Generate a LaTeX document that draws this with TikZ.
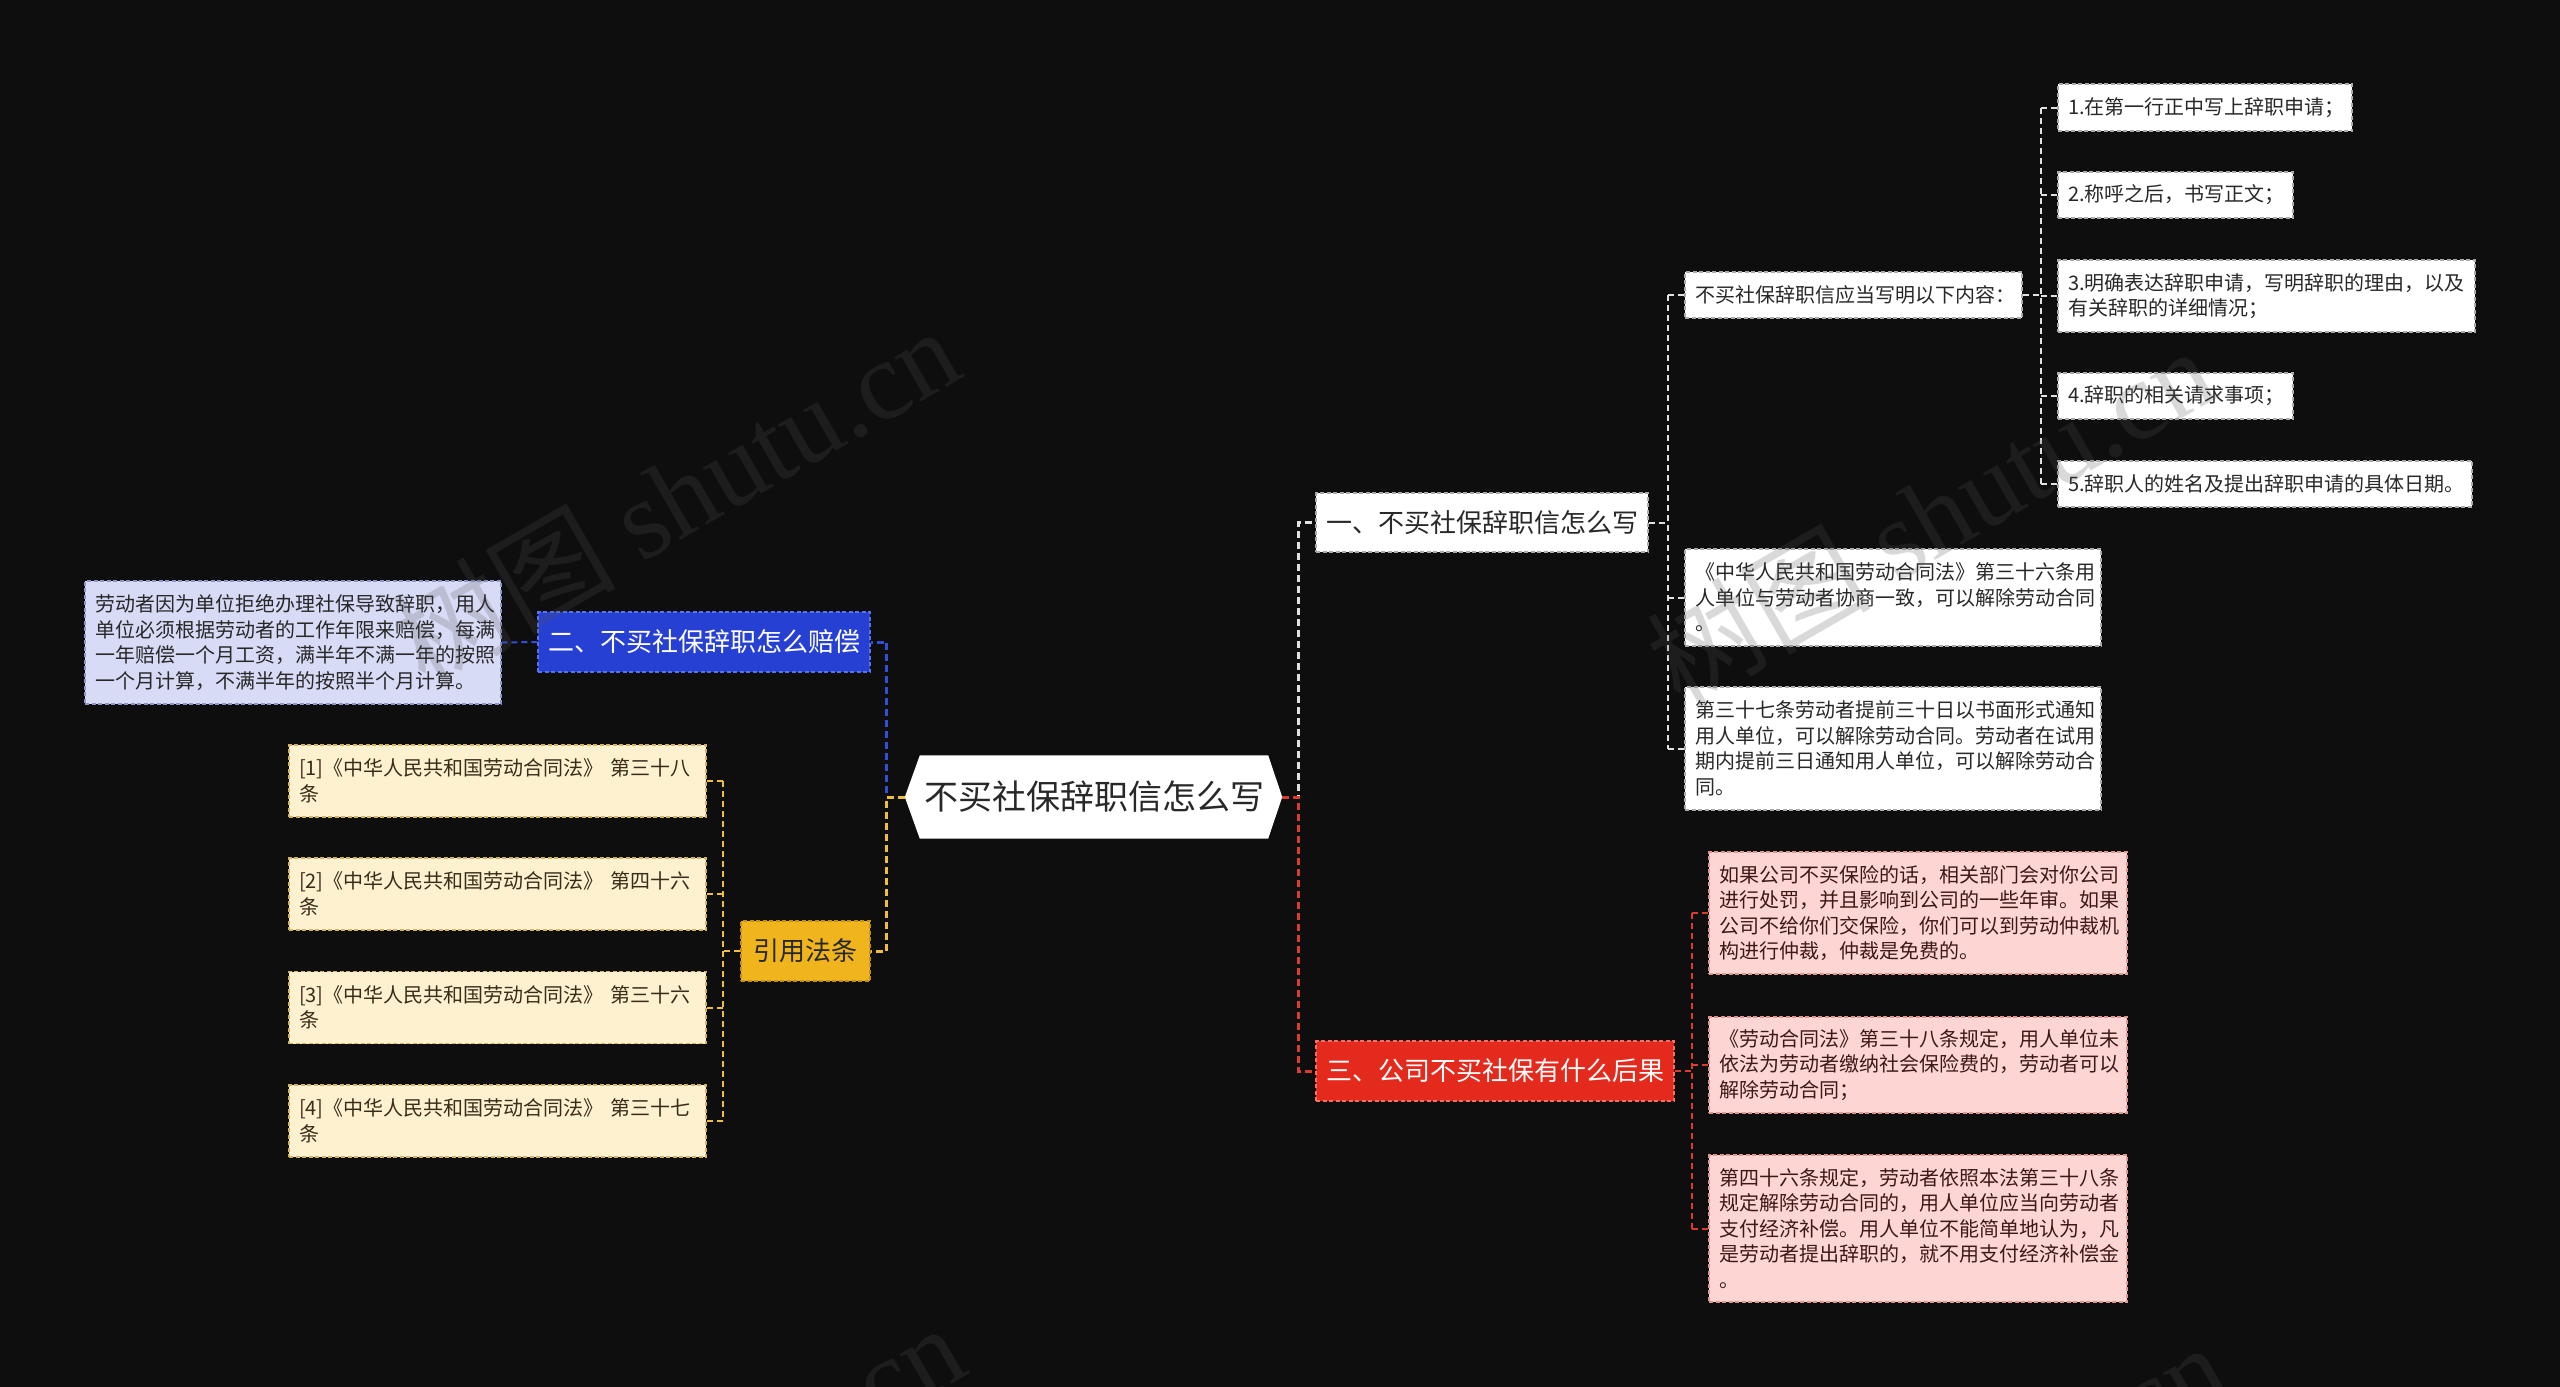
\documentclass[tikz,border=0pt]{standalone}
\usepackage{fontspec}
\setmainfont{Noto Sans CJK SC}
\newfontfamily\wmlatin{Liberation Serif}
\usetikzlibrary{calc}
\setlength{\parindent}{0pt}
\definecolor{bgc}{RGB}{14,14,14}
\definecolor{txt}{RGB}{40,40,40}
\definecolor{wborder}{RGB}{170,170,170}
\definecolor{bluefill}{RGB}{38,64,212}
\definecolor{blueborder}{RGB}{90,115,235}
\definecolor{bluelink}{RGB}{48,80,215}
\definecolor{lavfill}{RGB}{216,219,246}
\definecolor{lavborder}{RGB}{140,148,200}
\definecolor{yelfill}{RGB}{240,181,28}
\definecolor{yelborder}{RGB}{196,145,14}
\definecolor{yellink}{RGB}{240,190,60}
\definecolor{creamfill}{RGB}{253,241,208}
\definecolor{creamborder}{RGB}{210,180,100}
\definecolor{creamtxt}{RGB}{55,45,25}
\definecolor{redfill}{RGB}{228,42,29}
\definecolor{redborder}{RGB}{250,110,95}
\definecolor{redlink}{RGB}{220,60,45}
\definecolor{pinkfill}{RGB}{253,214,211}
\definecolor{pinkborder}{RGB}{225,150,145}
\definecolor{pinktxt}{RGB}{60,25,25}
\definecolor{wlink}{RGB}{225,225,225}
\definecolor{wmgray}{RGB}{85,85,85}
\pgfdeclarelayer{bglayer}
\pgfsetlayers{bglayer,main}
\tikzset{
  nodebase/.style={rectangle, inner xsep=10pt, inner ysep=0pt, line width=1.3pt, dash pattern=on 4pt off 2.5pt},
  lvone/.style={nodebase, font=\fontsize{26}{32}\selectfont, inner xsep=0pt, align=center, minimum height=60pt},
  smallbox/.style={nodebase, font=\fontsize{20}{25.5}\selectfont, align=left},
  whitebox/.style={smallbox, fill=white, draw=wborder, text=txt},
  lavbox/.style={smallbox, fill=lavfill, draw=lavborder, text=txt},
  creambox/.style={smallbox, fill=creamfill, draw=creamborder, text=creamtxt},
  pinkbox/.style={smallbox, fill=pinkfill, draw=pinkborder, text=pinktxt},
  mainlink/.style={line width=3pt, dash pattern=on 7pt off 4pt},
  seclink/.style={line width=2pt, dash pattern=on 6pt off 4pt},
  wmark/.style={font=\fontsize{112}{112}\selectfont, text=wmgray, text opacity=0.22, inner sep=0pt, rotate=30}
}
\begin{document}
\begin{tikzpicture}[x=1pt,y=-1pt]
\useasboundingbox (0,0) rectangle (2560,1387);
\begin{pgfonlayer}{bglayer}
\fill[bgc] (0,0) rectangle (2560,1387);
\end{pgfonlayer}

% root
\node[rectangle, inner sep=0pt, minimum width=348pt, minimum height=83pt, font=\fontsize{34}{40}\selectfont, text=txt] (root) at (1094,797) {不买社保辞职信怎么写};
\coordinate (rootR) at ($(root.east)+(14,0)$);
\coordinate (rootL) at ($(root.west)+(-15,0)$);
\begin{pgfonlayer}{bglayer}
\fill[white] (root.north west) -- (root.north east) -- (rootR) -- (root.south east) -- (root.south west) -- (rootL) -- cycle;
\end{pgfonlayer}

% level one
\node[lvone, fill=white, draw=wborder, text=txt, minimum width=332pt, minimum height=59pt] (n1) at (1482,522.5) {一、不买社保辞职信怎么写};
\node[lvone, fill=bluefill, draw=blueborder, text=white, minimum width=332pt] (n2) at (704,642) {二、不买社保辞职怎么赔偿};
\node[lvone, fill=redfill, draw=redborder, text=white, minimum width=358pt] (n3) at (1495,1071) {三、公司不买社保有什么后果};
\node[lvone, fill=yelfill, draw=yelborder, text=txt, minimum width=129pt] (n4) at (805.5,951) {引用法条};

% branch one
\node[whitebox, text width=317pt, minimum height=46pt] (a) at (1853.5,295) {不买社保辞职信应当写明以下内容：};
\node[whitebox, text width=274pt, minimum height=47pt] (i1) at (2205,107.5) {1.在第一行正中写上辞职申请；};
\node[whitebox, text width=215pt, minimum height=46pt] (i2) at (2175.5,195) {2.称呼之后，书写正文；};
\node[whitebox, text width=397pt, minimum height=72pt] (i3) at (2266.5,296) {3.明确表达辞职申请，写明辞职的理由，以及\\有关辞职的详细情况；};
\node[whitebox, text width=215pt, minimum height=46pt] (i4) at (2175.5,396) {4.辞职的相关请求事项；};
\node[whitebox, text width=394pt, minimum height=46pt] (i5) at (2265,484) {5.辞职人的姓名及提出辞职申请的具体日期。};
\node[whitebox, text width=396pt, minimum height=97pt] (b) at (1893,597.5) {《中华人民共和国劳动合同法》第三十六条用\\人单位与劳动者协商一致，可以解除劳动合同\\。};
\node[whitebox, text width=396pt, minimum height=123pt] (c) at (1893,748.5) {第三十七条劳动者提前三十日以书面形式通知\\用人单位，可以解除劳动合同。劳动者在试用\\期内提前三日通知用人单位，可以解除劳动合\\同。};

% branch three
\node[pinkbox, text width=398pt, minimum height=122pt] (p1) at (1918,913) {如果公司不买保险的话，相关部门会对你公司\\进行处罚，并且影响到公司的一些年审。如果\\公司不给你们交保险，你们可以到劳动仲裁机\\构进行仲裁，仲裁是免费的。};
\node[pinkbox, text width=398pt, minimum height=96pt] (p2) at (1918,1065) {《劳动合同法》第三十八条规定，用人单位未\\依法为劳动者缴纳社会保险费的，劳动者可以\\解除劳动合同；};
\node[pinkbox, text width=398pt, minimum height=147pt] (p3) at (1918,1228.5) {第四十六条规定，劳动者依照本法第三十八条\\规定解除劳动合同的，用人单位应当向劳动者\\支付经济补偿。用人单位不能简单地认为，凡\\是劳动者提出辞职的，就不用支付经济补偿金\\。};

% branch two
\node[lavbox, text width=396pt, minimum height=123pt] (l) at (293,642.5) {劳动者因为单位拒绝办理社保导致辞职，用人\\单位必须根据劳动者的工作年限来赔偿，每满\\一年赔偿一个月工资，满半年不满一年的按照\\一个月计算，不满半年的按照半个月计算。};

% citations
\node[creambox, text width=397pt, minimum height=72pt] (r1) at (497.5,781) {[1]《中华人民共和国劳动合同法》~第三十八\\条};
\node[creambox, text width=397pt, minimum height=72pt] (r2) at (497.5,894) {[2]《中华人民共和国劳动合同法》~第四十六\\条};
\node[creambox, text width=397pt, minimum height=72pt] (r3) at (497.5,1007.5) {[3]《中华人民共和国劳动合同法》~第三十六\\条};
\node[creambox, text width=397pt, minimum height=72pt] (r4) at (497.5,1121) {[4]《中华人民共和国劳动合同法》~第三十七\\条};

% main connectors
\draw[mainlink, wlink] (rootR) -- ++(16,0) |- (n1.west);
\draw[mainlink, redlink] (rootR) -- ++(16,0) |- (n3.west);
\draw[mainlink, bluelink] (rootL) -- ++(-18,0) |- (n2.east);
\draw[mainlink, yellink] (rootL) -- ++(-18,0) |- (n4.east);

% branch one connectors
\draw[seclink, wlink] (n1.east) -- ++(19,0) coordinate (j1);
\draw[seclink, wlink] (j1 |- a.west) -- (j1 |- c.west);
\draw[seclink, wlink] (j1 |- a.west) -- (a.west);
\draw[seclink, wlink] (j1 |- b.west) -- (b.west);
\draw[seclink, wlink] (j1 |- c.west) -- (c.west);

\draw[seclink, wlink] (a.east) -- ++(18,0) coordinate (j2);
\draw[seclink, wlink] (j2 |- i1.west) -- (j2 |- i5.west);
\foreach \n in {i1,i2,i3,i4,i5} {\draw[seclink, wlink] (j2 |- \n.west) -- (\n.west);}

% branch three connectors
\draw[seclink, redlink] (n3.east) -- ++(17,0) coordinate (j3);
\draw[seclink, redlink] (j3 |- p1.west) -- (j3 |- p3.west);
\foreach \n in {p1,p2,p3} {\draw[seclink, redlink] (j3 |- \n.west) -- (\n.west);}

% branch two connector
\draw[seclink, bluelink] (n2.west) -- (l.east);

% citation connectors
\draw[seclink, yellink] (n4.west) -- ++(-17,0) coordinate (j4);
\draw[seclink, yellink] (j4 |- r1.east) -- (j4 |- r4.east);
\foreach \n in {r1,r2,r3,r4} {\draw[seclink, yellink] (j4 |- \n.east) -- (\n.east);}

% watermarks
\begin{scope}
\clip (0,0) rectangle (2560,1387);
\node[wmark] (w1) at (675,495) {树图 {\wmlatin shutu.cn}};
\node[wmark] (w2) at (1930,515) {树图 {\wmlatin shutu.cn}};
\node[wmark] (w3) at (680,1492) {树图 {\wmlatin shutu.cn}};
\node[wmark] (w4) at (1943,1511) {树图 {\wmlatin shutu.cn}};
\end{scope}
\end{tikzpicture}
\end{document}
